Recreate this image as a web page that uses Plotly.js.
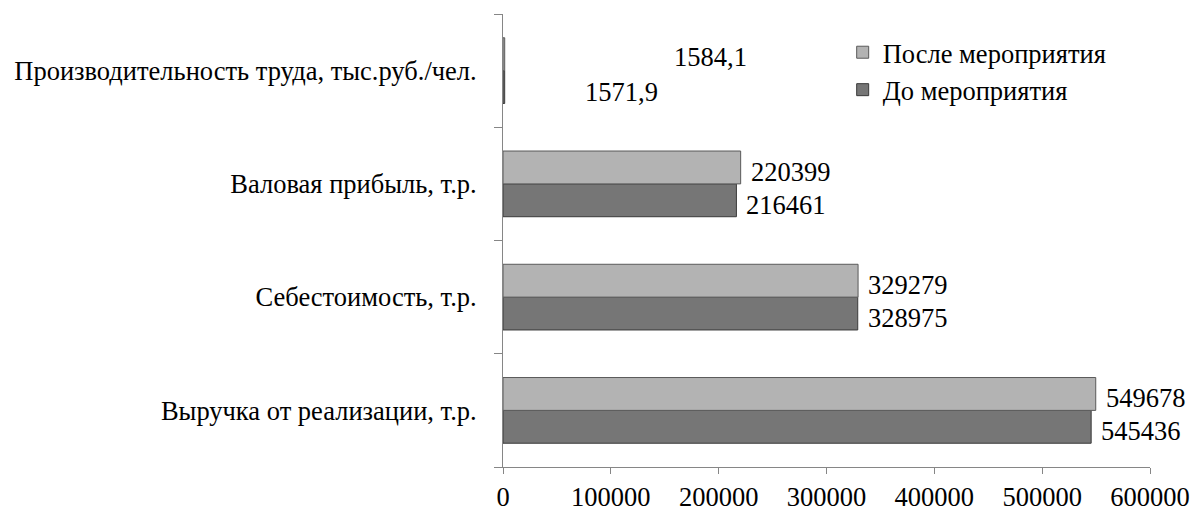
<!DOCTYPE html>
<html><head><meta charset="utf-8">
<script src="https://cdn.plot.ly/plotly-3.0.1.min.js"></script>
<style>body{margin:0;background:#fff}#c{width:1194px;height:512px}</style>
</head><body><div id="c"></div>
<script>
const categories = ["Выручка от реализации, т.р.", "Себестоимость, т.р.", "Валовая прибыль, т.р.", "Производительность труда, тыс.руб./чел."];
const before = [545436, 328975, 216461, 1571.9];
const after = [549678, 329279, 220399, 1584.1];
const beforeLabels = ["545436", "328975", "216461", "1571,9"];
const afterLabels = ["549678", "329279", "220399", "1584,1"];
const xTicks = [0, 100000, 200000, 300000, 400000, 500000, 600000];

const font = "'Liberation Serif', 'Times New Roman', serif";
const FS = 26.5;
const traces = [
  {type:"bar", orientation:"h", name:"До мероприятия", y:categories, x:before,
   marker:{color:"#767676", line:{color:"#3a3a3a", width:1}}, hoverinfo:"x"},
  {type:"bar", orientation:"h", name:"После мероприятия", y:categories, x:after,
   marker:{color:"#b3b3b3", line:{color:"#5a5a5a", width:1}}, hoverinfo:"x"}
];
const beforeShift = [8, 8, 8, 78];
const afterShift = [8, 8, 8, 167];
const annotations = [];
categories.forEach((c,i)=>{
  annotations.push({x:before[i], y:c, text:beforeLabels[i], showarrow:false, xanchor:"left",
    xshift:beforeShift[i], yshift:-21, font:{family:font,size:FS,color:"#000"}});
  annotations.push({x:after[i], y:c, text:afterLabels[i], showarrow:false, xanchor:"left",
    xshift:afterShift[i], yshift:i===3?14:12, font:{family:font,size:FS,color:"#000"}});
});
const layout = {
  width:1194, height:512,
  margin:{l:503, r:44, t:14, b:45, pad:0},
  paper_bgcolor:"#fff", plot_bgcolor:"#fff",
  barmode:"group", bargap:0.42, bargroupgap:0,
  font:{family:font, size:FS, color:"#000"},
  showlegend:true,
  legend:{x:0.525, y:0.968, xanchor:"left", yanchor:"top", traceorder:"reversed",
    font:{family:font,size:FS,color:"#000"}, itemwidth:30, tracegroupgap:0, bgcolor:"rgba(0,0,0,0)"},
  xaxis:{range:[0,600000], tickvals:xTicks, ticktext:xTicks.map(String), showgrid:false, zeroline:false,
    showline:true, linecolor:"#868686", linewidth:1, ticks:"outside", ticklen:6, tickcolor:"#868686",
    tickfont:{family:font,size:FS}, fixedrange:true},
  yaxis:{type:"category", showgrid:false, zeroline:false, showline:true, linecolor:"#868686", linewidth:1,
    ticks:"outside", tickson:"boundaries", ticklen:8, tickcolor:"#868686", ticklabelstandoff:20,
    tickfont:{family:font,size:FS}, fixedrange:true},
  annotations:annotations
};
Plotly.newPlot("c", traces, layout, {displayModeBar:false, staticPlot:true});
</script></body></html>
